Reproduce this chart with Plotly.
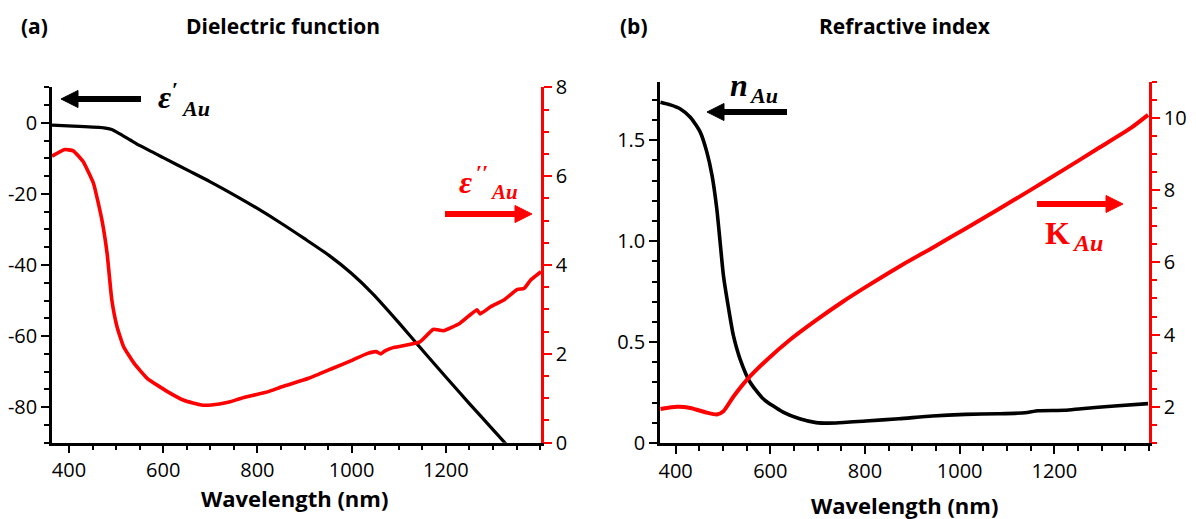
import plotly.graph_objects as go

# ---------------- data ----------------
# (a) Dielectric function
eps_r_wl = [364, 409, 474, 491, 509, 531, 552, 600, 659, 700, 752, 800, 852, 900,
            952, 1000, 1045, 1100, 1150, 1200, 1250, 1300, 1334]
eps_r = [-0.66, -0.94, -1.4, -1.9, -3.2, -4.9, -6.5, -9.8, -13.8, -16.6, -20.4, -24.1,
         -28.4, -32.6, -37.3, -42.4, -48.1, -56.2, -63.9, -71.5, -79.0, -86.3, -91.3]

eps_i_wl = [364, 391, 409, 430, 452, 470, 481, 491, 502, 516, 538, 566, 609, 645, 681,
            702, 738, 766, 823, 852, 909, 959, 1002, 1034, 1052, 1062, 1070, 1088, 1109,
            1145, 1173, 1195, 1230, 1266, 1273, 1295, 1323, 1352, 1366, 1380, 1402]
eps_i = [6.45, 6.60, 6.57, 6.33, 5.84, 5.01, 4.26, 3.21, 2.61, 2.16, 1.79, 1.45, 1.15,
         0.95, 0.85, 0.85, 0.91, 1.00, 1.15, 1.26, 1.45, 1.67, 1.86, 2.01, 2.05, 2.00,
         2.06, 2.14, 2.18, 2.27, 2.55, 2.52, 2.69, 2.99, 2.90, 3.06, 3.21, 3.45, 3.47,
         3.66, 3.85]

# (b) Refractive index
n_wl = [368, 389, 410, 431, 452, 466, 477, 487, 494, 501, 512, 522, 536, 557, 585,
        627, 662, 697, 739, 802, 872, 942, 1012, 1082, 1138, 1166, 1222, 1257, 1327, 1398]
n_au = [1.688, 1.675, 1.655, 1.614, 1.540, 1.441, 1.325, 1.160, 0.995, 0.830, 0.665,
        0.533, 0.417, 0.302, 0.219, 0.153, 0.120, 0.101, 0.099, 0.109, 0.120, 0.134,
        0.142, 0.145, 0.150, 0.160, 0.162, 0.170, 0.183, 0.195]

k_wl = [368, 403, 431, 466, 487, 501, 522, 550, 592, 641, 697, 753, 802, 872, 942,
        1012, 1082, 1152, 1222, 1292, 1362, 1398]
k_au = [1.94, 2.00, 1.97, 1.84, 1.79, 1.88, 2.28, 2.74, 3.29, 3.85, 4.40, 4.91, 5.32,
        5.88, 6.40, 6.93, 7.47, 8.02, 8.58, 9.15, 9.72, 10.08]

x_tickvals = [400, 600, 800, 1000, 1200]
x_ticktext = ["400", "600", "800", "1000", "1200"]
ya_tickvals = [-80, -60, -40, -20, 0]
ya_ticktext = ["-80", "-60", "-40", "-20", "0"]
yb_tickvals = [0, 0.5, 1.0, 1.5]
yb_ticktext = ["0", "0.5", "1.0", "1.5"]

# ---------------- styling ----------------
W, H = 1196, 519
RED = "#ff0000"
TICKFONT = dict(family="Open Sans", size=20, color="black")
TITLEFONT = dict(family="Open Sans", size=21, color="black")
AXTITLEFONT = dict(family="Open Sans", size=22, color="black")
SER = "Liberation Serif"


def px(xp):
    return xp / W


def py(yp):
    return 1 - yp / H


fig = go.Figure()
fig.add_trace(go.Scatter(x=eps_r_wl, y=eps_r, mode="lines", xaxis="x", yaxis="y",
                         line=dict(color="black", width=3.2, shape="spline", smoothing=0.6),
                         showlegend=False))
fig.add_trace(go.Scatter(x=eps_i_wl, y=eps_i, mode="lines", xaxis="x", yaxis="y2",
                         line=dict(color=RED, width=3.6, shape="spline", smoothing=0.4),
                         showlegend=False))
fig.add_trace(go.Scatter(x=n_wl, y=n_au, mode="lines", xaxis="x2", yaxis="y3",
                         line=dict(color="black", width=3.6, shape="spline", smoothing=0.6),
                         showlegend=False))
fig.add_trace(go.Scatter(x=k_wl, y=k_au, mode="lines", xaxis="x2", yaxis="y4",
                         line=dict(color=RED, width=4, shape="spline", smoothing=0.6),
                         showlegend=False))


def xaxis(domain, rng, anchor):
    return dict(domain=domain, range=rng, anchor=anchor, automargin=False,
                showgrid=False, zeroline=False,
                showline=True, linecolor="black", linewidth=2.5,
                ticks="outside", ticklen=8, tickwidth=2, tickcolor="black",
                tickvals=x_tickvals, ticktext=x_ticktext, tickfont=TICKFONT,
                minor=dict(dtick=50, tick0=0, ticks="outside", ticklen=5, tickwidth=2,
                           tickcolor="black", showgrid=False))


def yaxis(domain, rng, anchor, color, side, dtick, minor, overlaying=None, **kw):
    d = dict(domain=domain, range=rng, anchor=anchor, side=side, automargin=False,
             showgrid=False, zeroline=False, showline=True, linecolor=color, linewidth=2.5,
             ticks="outside", ticklen=8, tickwidth=2, tickcolor=color,
             dtick=dtick, tick0=0, tickfont=TICKFONT,
             minor=dict(dtick=minor, tick0=0, ticks="outside", ticklen=5, tickwidth=2,
                        tickcolor=color, showgrid=False))
    if overlaying:
        d["overlaying"] = overlaying
    d.update(kw)
    return d


xa_dom = [px(52), px(541)]
ya_dom = [py(442.7), py(87.3)]
xb_dom = [px(660), px(1149)]
yb_dom = [py(443), py(81.7)]

fig.update_layout(
    template="none",
    width=W, height=H, margin=dict(l=0, r=0, t=0, b=0, pad=0, autoexpand=False),
    paper_bgcolor="white", plot_bgcolor="white", showlegend=False,
    xaxis=xaxis(xa_dom, [364, 1402], "y"),
    yaxis=yaxis(ya_dom, [-90, 10], "x", "black", "left", 20, 5,
                tickvals=ya_tickvals, ticktext=ya_ticktext),
    yaxis2=yaxis(ya_dom, [0, 8], "x", RED, "right", 2, 0.5, overlaying="y"),
    xaxis2=xaxis(xb_dom, [367, 1400], "y3"),
    yaxis3=yaxis(yb_dom, [0, 1.79], "x2", "black", "left", 0.5, 0.1,
                 tickvals=yb_tickvals, ticktext=yb_ticktext),
    yaxis4=yaxis(yb_dom, [1, 11], "x2", RED, "right", 2, 0.5, overlaying="y3"),
)

ann = []
shapes = []


def text(xp, yp, s, font, xanchor="center"):
    ann.append(dict(x=px(xp), y=py(yp), xref="paper", yref="paper", text=s,
                    showarrow=False, font=font, xanchor=xanchor, yanchor="middle"))


def arrow(tipx, tipy, tailx, color, head=17.0, half=8.5, width=6):
    d = 1 if tailx > tipx else -1
    basex = tipx + d * head
    shapes.append(dict(type="line", xref="paper", yref="paper",
                       x0=px(basex), x1=px(tailx), y0=py(tipy), y1=py(tipy),
                       line=dict(color=color, width=width)))
    path = "M {:.5f},{:.5f} L {:.5f},{:.5f} L {:.5f},{:.5f} Z".format(
        px(tipx), py(tipy), px(basex), py(tipy - half), px(basex), py(tipy + half))
    shapes.append(dict(type="path", xref="paper", yref="paper", path=path,
                       fillcolor=color, line=dict(color=color, width=1)))


# panel titles
text(34, 26, "<b>(a)</b>", TITLEFONT)
text(283, 26, "<b>Dielectric function</b>", TITLEFONT)
text(634, 26, "<b>(b)</b>", TITLEFONT)
text(905, 26, "<b>Refractive index</b>", TITLEFONT)

# axis titles
text(294, 498, "<b>Wavelength (nm)</b>", AXTITLEFONT)
text(904, 505, "<b>Wavelength (nm)</b>", AXTITLEFONT)

# curve labels (built from separate pieces: symbol, prime(s), subscript)
# epsilon' (black)
text(164, 97, "<b><i>ε</i></b>", dict(family=SER, size=32, color="black"))
text(175, 89, "<b>′</b>", dict(family=SER, size=22, color="black"))
text(195, 108, "<b><i>Au</i></b>", dict(family=SER, size=22, color="black"))
# epsilon'' (red)
text(465, 182, "<b><i>ε</i></b>", dict(family=SER, size=32, color=RED))
text(482, 173, "<b>′′</b>", dict(family=SER, size=22, color=RED))
text(504, 192, "<b><i>Au</i></b>", dict(family=SER, size=21, color=RED))
# n_Au (black)
text(739, 85, "<b><i>n</i></b>", dict(family=SER, size=32, color="black"))
text(763, 95, "<b><i>Au</i></b>", dict(family=SER, size=22, color="black"))
# K_Au (red)
text(1057, 233, "<b>K</b>", dict(family=SER, size=32, color=RED))
text(1087, 243, "<b><i>Au</i></b>", dict(family=SER, size=24, color=RED))

# arrows
arrow(61, 99, 141, "black")
arrow(532, 214, 445, RED)
arrow(707, 112, 787, "black")
arrow(1123, 204, 1037, RED)

fig.update_layout(annotations=ann, shapes=shapes)
fig.write_html("out.html")
